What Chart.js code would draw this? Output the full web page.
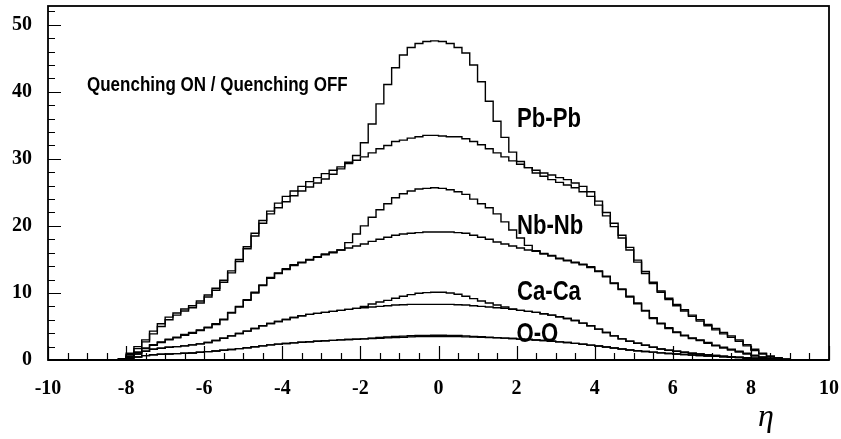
<!DOCTYPE html>
<html>
<head>
<meta charset="utf-8">
<title>Pseudorapidity distributions, quenching on / off</title>
<script src="https://cdn.jsdelivr.net/npm/chart.js@4.4.1/dist/chart.umd.min.js"></script>
<style>
    html, body { margin: 0; padding: 0; background: #fff; }
    #wrap { width: 841px; height: 439px; }
</style>
</head>
<body>
<div id="wrap"><canvas id="etaChart" width="841" height="439"></canvas></div>
<script>
// Histogram bins: 0.2 wide, first bin centred at eta = -8.1, last at 9.3
const etaStart = -8.1;
const binWidth = 0.2;

// dN/deta per bin, quenching ON (peaked) and OFF (flat top)
const pbOn = [0.1,0.8,1.7,2.7,3.9,5.0,6.0,6.7,7.3,7.8,8.5,9.4,10.4,11.6,13.0,14.7,16.6,18.5,20.4,21.8,22.7,23.6,24.5,25.2,25.8,26.4,27.0,27.7,
    28.5,29.5,30.5,32.4,35.2,38.2,41.1,43.6,45.5,46.6,47.2,47.5,47.6,47.5,47.2,46.6,45.8,44.0,41.5,38.6,35.6,33.2,31.0,29.6,28.7,27.9,
    27.4,26.9,26.5,26.1,25.7,25.1,24.4,23.1,21.5,19.9,18.2,16.4,14.6,12.9,11.4,10.1,9.0,8.1,7.3,6.5,5.8,5.1,4.5,3.9,3.4,2.8,2.1,1.4,0.9,0.5,0.3,0.12,0.04,0];
const pbOff = [0.2,1.0,2.0,3.0,4.3,5.4,6.4,7.0,7.6,8.1,8.8,9.7,10.7,11.9,13.3,15.0,16.9,18.9,20.8,22.2,23.4,24.4,25.2,25.9,26.6,27.2,27.8,28.3,
    28.8,29.3,29.8,30.3,30.9,31.5,32.0,32.6,32.8,33.1,33.3,33.5,33.5,33.4,33.3,33.3,33.0,32.6,32.1,31.5,30.9,30.3,29.7,29.2,28.7,28.3,
    27.9,27.6,27.2,26.9,26.4,25.9,25.1,23.7,22.0,20.4,18.6,16.8,14.9,13.2,11.6,10.3,9.2,8.3,7.5,6.7,6.0,5.3,4.7,4.1,3.6,3.0,2.3,1.6,1.0,0.6,0.35,0.15,0.05,0];

const nbOn = [0.1,0.5,1.1,1.7,2.2,2.6,3.0,3.3,3.7,4.0,4.4,4.8,5.3,6.0,7.0,7.9,8.9,10.0,11.1,12.2,12.9,13.5,14.1,14.5,14.9,15.3,15.7,16.0,
    16.4,17.5,18.8,20.0,21.3,22.4,23.3,24.2,24.8,25.2,25.5,25.6,25.7,25.6,25.4,25.1,24.7,24.0,23.3,22.7,21.8,20.6,19.4,18.2,17.1,16.3,
    15.8,15.5,15.1,14.8,14.5,14.2,13.8,13.2,12.4,11.4,10.5,9.4,8.4,7.3,6.2,5.4,4.7,4.1,3.6,3.2,2.9,2.5,2.1,1.8,1.5,1.2,0.9,0.6,0.4,0.25,0.12,0.06,0.02,0];
const nbOff = [0.1,0.6,1.2,1.8,2.3,2.7,3.1,3.4,3.8,4.1,4.5,4.9,5.4,6.1,7.1,8.0,9.0,10.1,11.2,12.3,13.0,13.6,14.2,14.6,15.0,15.4,15.8,16.1,
    16.4,16.7,17.0,17.3,17.7,18.0,18.3,18.6,18.8,18.9,19.0,19.1,19.1,19.1,19.1,19.0,18.9,18.6,18.3,18.0,17.6,17.3,17.0,16.7,16.4,16.2,
    15.9,15.6,15.2,14.9,14.6,14.3,13.9,13.3,12.5,11.5,10.6,9.5,8.5,7.4,6.3,5.5,4.8,4.2,3.7,3.3,3.0,2.6,2.2,1.9,1.6,1.3,1.0,0.7,0.45,0.3,0.15,0.08,0.03,0];

const caOn = [0.05,0.4,0.9,1.3,1.6,1.75,1.9,2.0,2.1,2.25,2.4,2.6,2.9,3.25,3.6,3.95,4.3,4.7,5.1,5.45,5.75,6.05,6.35,6.6,6.8,6.95,7.1,7.25,7.4,7.55,
    7.7,8.0,8.35,8.65,8.9,9.2,9.5,9.75,9.95,10.05,10.1,10.1,10.0,9.8,9.5,9.15,8.8,8.5,8.2,7.9,7.6,7.4,
    7.25,7.1,6.9,6.7,6.45,6.2,5.9,5.5,5.1,4.6,4.1,3.6,3.15,2.8,2.5,2.2,1.9,1.65,1.45,1.3,1.15,1.0,0.9,0.78,0.67,0.57,0.48,0.4,0.32,0.25,0.18,0.12,0.07,0.04,0.02,0];
const caOff = [0.05,0.4,0.9,1.3,1.6,1.75,1.9,2.0,2.1,2.25,2.4,2.6,2.9,3.25,3.6,3.95,4.3,4.7,5.1,5.45,5.75,6.05,6.35,6.6,6.8,6.95,7.1,7.25,7.4,7.55,
    7.7,7.8,7.9,8.0,8.1,8.2,8.25,8.3,8.3,8.3,8.3,8.3,8.3,8.25,8.2,8.1,8.0,7.9,7.8,7.7,7.55,7.4,
    7.25,7.1,6.9,6.7,6.45,6.2,5.9,5.5,5.1,4.6,4.1,3.6,3.15,2.8,2.5,2.2,1.9,1.65,1.45,1.3,1.15,1.0,0.9,0.78,0.67,0.57,0.48,0.4,0.32,0.25,0.18,0.12,0.07,0.04,0.02,0];

const oOn = [0.03,0.2,0.45,0.65,0.78,0.85,0.9,0.95,1.0,1.05,1.15,1.25,1.35,1.45,1.57,1.7,1.83,1.97,2.1,2.25,2.37,2.47,2.56,2.64,2.72,2.8,2.87,2.93,3.0,3.05,3.1,3.15,
    3.25,3.35,3.42,3.5,3.56,3.62,3.66,3.68,3.7,3.7,3.68,3.65,3.6,3.53,3.46,3.4,3.33,3.27,3.2,
    3.12,3.05,2.98,2.9,2.8,2.7,2.6,2.48,2.35,2.22,2.08,1.93,1.78,1.63,1.5,1.38,1.27,1.17,1.07,0.98,0.9,0.82,0.74,0.67,0.6,0.54,0.48,0.42,0.36,0.3,0.23,0.16,0.1,0.06,0.03,0.01,0];
const oOff = [0.03,0.2,0.45,0.65,0.78,0.85,0.9,0.95,1.0,1.05,1.15,1.25,1.35,1.45,1.57,1.7,1.83,1.97,2.1,2.25,2.37,2.47,2.56,2.64,2.72,2.8,2.87,2.93,3.0,3.05,3.1,3.15,
    3.2,3.25,3.3,3.35,3.4,3.45,3.48,3.5,3.5,3.5,3.5,3.48,3.45,3.42,3.38,3.34,3.3,3.27,3.2,
    3.12,3.05,2.98,2.9,2.8,2.7,2.6,2.48,2.35,2.22,2.08,1.93,1.78,1.63,1.5,1.38,1.27,1.17,1.07,0.98,0.9,0.82,0.74,0.67,0.6,0.54,0.48,0.42,0.36,0.3,0.23,0.16,0.1,0.06,0.03,0.01,0];

// Axis tick labels
const xTickLabels = [-10, -8, -6, -4, -2, 0, 2, 4, 6, 8, 10];
const yTickLabels = [0, 10, 20, 30, 40, 50];

const systemNames = ['Pb-Pb', 'Nb-Nb', 'Ca-Ca', 'O-O'];

// turn a list of bin contents into {x, y} points, padded with empty bins out to the axis ends
const toPoints = (values) => {
    const pts = [{ x: -10, y: 0 }, { x: etaStart - binWidth, y: 0 }];
    values.forEach((v, i) => pts.push({ x: +(etaStart + i * binWidth).toFixed(2), y: v }));
    pts.push({ x: +(etaStart + values.length * binWidth).toFixed(2), y: 0 }, { x: 10, y: 0 });
    return pts;
};

const histo = (label, values) => ({
    label: label,
    data: toPoints(values),
    borderColor: '#000',
    borderWidth: 1.4,
    pointRadius: 0,
    fill: false,
    stepped: 'middle'
});

const datasets = [
    histo('Pb-Pb ON', pbOn), histo('Pb-Pb OFF', pbOff),
    histo('Nb-Nb ON', nbOn), histo('Nb-Nb OFF', nbOff),
    histo('Ca-Ca ON', caOn), histo('Ca-Ca OFF', caOff),
    histo('O-O ON', oOn), histo('O-O OFF', oOff)
];

const serif = '"Liberation Serif", "Times New Roman", serif';
const sans = '"Liberation Sans", Arial, sans-serif';

// bold helvetica-ish text, squeezed horizontally
const drawNarrow = (ctx, text, x, baseline, size, squeeze) => {
    ctx.save();
    ctx.font = `bold ${size}px ${sans}`;
    ctx.fillStyle = '#000';
    ctx.textBaseline = 'alphabetic';
    ctx.textAlign = 'left';
    ctx.translate(x, baseline);
    ctx.scale(squeeze, 1);
    ctx.fillText(text, 0, 0);
    ctx.restore();
};

// frame, inward ticks, tick labels and text
const framePlugin = {
    id: 'frame',
    afterDraw(chart) {
        const ctx = chart.ctx;
        const { left, right, top, bottom } = chart.chartArea;
        const xs = chart.scales.x;
        const ys = chart.scales.y;

        ctx.save();
        ctx.strokeStyle = '#000';
        ctx.lineWidth = 1.2;
        ctx.beginPath();
        for (let i = 0; i <= 40; i++) {
            const px = Math.round(xs.getPixelForValue(-10 + i * 0.5)) + 0.5;
            const len = i % 4 === 0 ? 14 : 7;
            ctx.moveTo(px, bottom);
            ctx.lineTo(px, bottom - len);
        }
        for (let v = 0; v <= 52; v += 2) {
            const py = Math.round(ys.getPixelForValue(v)) + 0.5;
            const len = v % 10 === 0 ? 13 : 7;
            ctx.moveTo(left, py);
            ctx.lineTo(left + len, py);
        }
        ctx.stroke();

        ctx.lineWidth = 1.8;
        ctx.strokeRect(left, top, right - left, bottom - top);
        ctx.lineWidth = 2.2;
        ctx.beginPath();
        ctx.moveTo(left, bottom);
        ctx.lineTo(right, bottom);
        ctx.stroke();

        // tick labels
        ctx.font = `bold 20px ${serif}`;
        ctx.fillStyle = '#000';
        ctx.textAlign = 'center';
        ctx.textBaseline = 'alphabetic';
        xTickLabels.forEach(v => ctx.fillText(String(v), xs.getPixelForValue(v), bottom + 34));
        ctx.textAlign = 'right';
        ctx.textBaseline = 'middle';
        yTickLabels.forEach(v => ctx.fillText(String(v), left - 16, ys.getPixelForValue(v)));
        ctx.restore();

        drawNarrow(ctx, 'Quenching ON / Quenching OFF', 87, 91, 20, 0.85);
        drawNarrow(ctx, systemNames[0], 517, 127, 28, 0.79);
        drawNarrow(ctx, systemNames[1], 517, 233.5, 28, 0.79);
        drawNarrow(ctx, systemNames[2], 517, 300, 28, 0.79);
        drawNarrow(ctx, systemNames[3], 516.5, 341.5, 28, 0.79);

        ctx.save();
        ctx.font = `italic 32px ${serif}`;
        ctx.fillStyle = '#000';
        ctx.textBaseline = 'alphabetic';
        ctx.fillText('η', 758, 426);
        ctx.restore();
    }
};

new Chart(document.getElementById('etaChart'), {
    type: 'line',
    data: { datasets: datasets },
    options: {
        responsive: false,
        animation: false,
        layout: { padding: { top: 6, right: 12, left: 0, bottom: 0 } },
        plugins: {
            legend: { display: false },
            tooltip: { enabled: false },
            title: { display: false }
        },
        scales: {
            x: {
                type: 'linear',
                min: -10,
                max: 10,
                grid: { display: false, drawTicks: false },
                border: { display: false },
                ticks: { display: false },
                afterFit: (s) => { s.height = 79; }
            },
            y: {
                type: 'linear',
                min: 0,
                max: 52.8,
                grid: { display: false, drawTicks: false },
                border: { display: false },
                ticks: { display: false },
                afterFit: (s) => { s.width = 48; }
            }
        }
    },
    plugins: [framePlugin]
});
</script>
</body>
</html>
